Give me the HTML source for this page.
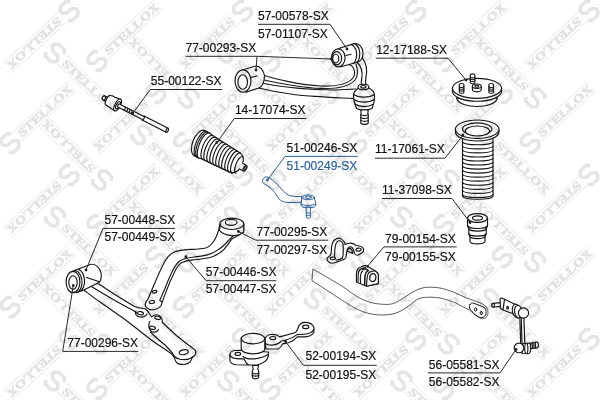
<!DOCTYPE html>
<html><head><meta charset="utf-8"><title>diagram</title>
<style>
html,body{margin:0;padding:0;background:#fff;}
svg{display:block;}
text{font-family:"Liberation Sans",sans-serif;}
</style></head><body>
<svg width="600" height="400" viewBox="0 0 600 400">
<rect width="600" height="400" fill="#fff"/>
<defs>
<g id="wm">
  <path d="M8 -6.3 L83 -6.3 M8 6.3 L83 6.3" stroke="#ececec" stroke-width="1" fill="none"/>
  <path d="M5.6,-4.4 L3.4,-6.9 L-2.6,-6.9 L-5.2,-4.3 L-5.2,-2.4 L-2.6,0 L2.6,0 L5.2,2.4 L5.2,4.3 L2.6,6.9 L-3.4,6.9 L-5.6,4.4" stroke="#e5e5e5" stroke-width="2.7" fill="none" stroke-linecap="butt" stroke-linejoin="miter" transform="translate(-1.5 0) scale(1.3)"/>
  <text x="11" y="3.9" style="font-family:'Liberation Serif',serif;font-weight:bold;font-size:11.5px" fill="#e2e2e2" stroke="#e2e2e2" stroke-width="0.6" textLength="70" lengthAdjust="spacingAndGlyphs">STELLOX</text>
</g>
</defs>
<g id="parts" fill="#fff" stroke="#161616" stroke-width="1.15" stroke-linejoin="round" stroke-linecap="round">

<!-- ===== tie rod 55-00122 ===== -->
<g transform="translate(103.9 98) rotate(27)">
  <path d="M0,-2.1 L5.5,-2.1 L5.5,2.1 L0,2.1 A1.5 2.1 0 0 1 0,-2.1Z"/>
  <ellipse cx="0" cy="0" rx="1.5" ry="2.1"/>
  <path d="M5,-5.3 L7.5,-5.9 L9,-5.6 L15.4,-6.5 L15.4,6.5 L5,5.3 A2.2 5.3 0 0 1 5,-5.3Z"/>
  <ellipse cx="15.4" cy="0" rx="2.7" ry="6.5"/>
  <ellipse cx="15.8" cy="0" rx="1.7" ry="4"/>
  <path d="M16.5,-1.7 L44,-1.7 L44,-2.2 L71,-2.2 A1 2.2 0 0 1 71,2.2 L44,2.2 L44,1.7 L16.5,1.7 A0.8 1.7 0 0 1 16.5,-1.7Z"/>
  <ellipse cx="71" cy="0" rx="1" ry="2.2"/>
  <path d="M23,-1.7 A0.8 1.7 0 0 1 23,1.7 M25.5,-1.7 A0.8 1.7 0 0 1 25.5,1.7 M28,-1.7 A0.8 1.7 0 0 1 28,1.7 M30.5,-1.7 A0.8 1.7 0 0 1 30.5,1.7 M44,-2.2 A1 2.2 0 0 1 44,2.2" fill="none"/>
</g>

<!-- ===== boot 14-17074 ===== -->
<g transform="translate(196.9 141.6) rotate(29)">
  <path d="M1.34,-13.50 L8.50,-13.6 L10.00,-13 L43,-11.2 C47.5,-10.5 50,-7 50.5,-3.2 L55,-3.2 L55,3.2 L50.5,3.2 C50,7 48,10 43,10.8 L11.50,13 L10.00,13.6 L4.66,13.50 A6.8 13.6 -7 0 1 1.34,-13.50Z"/>
  <path d="M3.14,-13.50 A5.17 13.60 -7 0 0 6.46,13.50 M4.94,-13.50 A5.17 13.60 -7 0 0 8.26,13.50 M6.74,-13.50 A5.17 13.60 -7 0 0 10.06,13.50" fill="none"/>
  <path d="M10.44,-12.70 A4.86 12.80 -7 0 0 13.56,12.70 M13.76,-12.54 A4.80 12.63 -7 0 0 16.84,12.54 M17.08,-12.38 A4.74 12.47 -7 0 0 20.12,12.38 M20.40,-12.21 A4.68 12.30 -7 0 0 23.40,12.21 M23.72,-12.05 A4.61 12.14 -7 0 0 26.68,12.05 M27.04,-11.89 A4.55 11.97 -7 0 0 29.96,11.89 M30.36,-11.72 A4.49 11.81 -7 0 0 33.24,11.72 M33.68,-11.56 A4.43 11.64 -7 0 0 36.52,11.56 M37.00,-11.39 A4.36 11.48 -7 0 0 39.80,11.39 M40.32,-11.23 A4.30 11.31 -7 0 0 43.08,11.23 M43.64,-11.07 A4.24 11.15 -7 0 0 46.36,11.07 M47.23,-8.73 A3.34 8.80 -7 0 0 49.37,8.73" fill="none"/>
  <ellipse cx="55" cy="0" rx="1.5" ry="3.2"/>
  <ellipse cx="55.2" cy="0" rx="0.9" ry="2"/>
</g>

<!-- ===== upper arm 77-00293 / 57-00578 ===== -->
<!-- arm body -->
<path d="M263,75 C275,79 300,85 321,86 C335,86.5 348,84 353,78 C355.5,74.5 355,70 352,66 L348.8,64.5 L357,60 L362.3,57.8 C366,63 367.5,70 366,77 C365,81 365.5,84 366.5,87 L362,99 C345,98 330,97.5 315,96.4 C300,96 275,92 259,88 L255,80Z"/>
<path d="M257,78.5 C275,82.5 300,88 321,88.4 C337,89 350,86 355,80 C358,76 358,70 356,64" fill="none"/>
<path d="M255,82 C275,86 300,90 335,90 L356,89" fill="none"/>
<path d="M356.5,61.5 C361,66 363,72 361.8,78 C361,81.5 361.2,84 361.8,86" fill="none"/>
<!-- left bushing -->
<path d="M243,69.8 L255,66.2 C260,65.5 263.5,70 264.5,75.5 C264.5,82 262,87 259,88 L246,92.2Z"/>
<ellipse cx="243" cy="81" rx="8" ry="11.2"/>
<ellipse cx="242.7" cy="82" rx="4.8" ry="7.3"/>
<path d="M250.5,77.5 L257,76" fill="none"/>
<!-- right bushing -->
<path d="M338,48.8 L354,43.6 C359,43 363,47 363,53 C363,58 361,61 358,62 L341,66.8Z"/>
<path d="M351,44.5 C355.5,46 357.5,52 356.5,57 C356,60 355,62 353.5,63.3 M354.5,43.6 C359,45.5 360.5,52 359.5,57 C359,60 358,61.5 357,62.3" fill="none"/>
<ellipse cx="338.3" cy="57.8" rx="6.8" ry="9"/>
<ellipse cx="336.8" cy="58.2" rx="4.8" ry="6.6"/>
<ellipse cx="335.8" cy="58.5" rx="3" ry="4.3"/>
<path d="M346,55.5 L351,54.3" fill="none"/>
<!-- ball joint -->
<path d="M358,88.5 C355,90.5 353.4,93 353.4,96 C353.6,100 354.5,103.5 356,107 L356.5,108.6 C360,110.6 368,110.6 372,108.6 L372.5,107 C374,103.5 374.6,100 374.6,96 C374.6,92.5 373,90 369,88Z"/>
<path d="M353.5,94.5 C359,98 369,98 374.5,94.5 M354,99.5 C359,103 369,103 374.2,99.5 M355.3,104.3 C360,107.3 368,107.3 373.2,104.3" fill="none"/>
<ellipse cx="363.4" cy="87" rx="5.4" ry="2.8"/>
<ellipse cx="363.4" cy="86.8" rx="2.6" ry="1.3"/>
<path d="M360.8,110 L361.2,113.5 L360.8,114.5 L360.8,123.3 C362.5,124.8 366.5,124.8 368.2,123.3 L368.2,114.5 L367.8,113.5 L368.2,110Z"/>
<path d="M360.8,117.5 C362.5,118.8 366.5,118.8 368.2,117.5 M360.8,120.4 C362.5,121.7 366.5,121.7 368.2,120.4 M360.8,114.6 C362.5,115.9 366.5,115.9 368.2,114.6" fill="none"/>

<!-- ===== strut mount 12-17188 ===== -->
<path d="M456.5,98 C458,104 468,106.5 477,106.5 C486,106.5 496,104 497.5,98Z"/>
<path d="M452.4,88.3 L452.4,91 C452.4,97 463,101.2 477,101.2 C491,101.2 501.6,97 501.6,91 L501.6,88.3Z"/>
<ellipse cx="477" cy="88.3" rx="24.6" ry="10"/>
<!-- studs -->
<g id="stud1"><path d="M470.3,82.6 L470.3,75 A2.3 1.1 0 0 1 474.9,75 L474.9,82.6 A2.3 1.1 0 0 1 470.3,82.6Z"/><path d="M470.3,76.8 A2.3 1.1 0 0 0 474.9,76.8 M470.3,78.6 A2.3 1.1 0 0 0 474.9,78.6 M470.3,80.4 A2.3 1.1 0 0 0 474.9,80.4" fill="none"/></g>
<use href="#stud1" transform="translate(-11 9.6)"/>
<use href="#stud1" transform="translate(18.6 9.6)"/>
<path d="M472.4,86.2 L472.4,89.6 A4.4 2.2 0 0 0 481.2,89.6 L481.2,86.2Z"/>
<ellipse cx="476.8" cy="86.2" rx="4.4" ry="2.2"/>
<ellipse cx="476.8" cy="86.2" rx="2" ry="1"/>

<!-- ===== boot 11-17061 ===== -->
<path d="M462.5,136 L462.5,196.3 A15.3 3.2 0 0 0 493,196.3 L493,136Z"/>
<path d="M462.5,142.0 A15.3 3 0 0 0 493,142.0 M462.5,146.1 A15.3 3 0 0 0 493,146.1 M462.5,150.1 A15.3 3 0 0 0 493,150.1 M462.5,154.2 A15.3 3 0 0 0 493,154.2 M462.5,158.2 A15.3 3 0 0 0 493,158.2 M462.5,162.2 A15.3 3 0 0 0 493,162.2 M462.5,166.3 A15.3 3 0 0 0 493,166.3 M462.5,170.3 A15.3 3 0 0 0 493,170.3 M462.5,174.4 A15.3 3 0 0 0 493,174.4 M462.5,178.4 A15.3 3 0 0 0 493,178.4 M462.5,182.5 A15.3 3 0 0 0 493,182.5 M462.5,186.6 A15.3 3 0 0 0 493,186.6 M462.5,190.6 A15.3 3 0 0 0 493,190.6 M462.5,194.7 A15.3 3 0 0 0 493,194.7" fill="none"/>
<path d="M455.4,129.2 L455.4,131.4 C455.4,137 465,141 477.2,141 C489.5,141 499,137 499,131.4 L499,129.2Z"/>
<ellipse cx="477.2" cy="129.2" rx="21.8" ry="9.2"/>
<ellipse cx="477.2" cy="129" rx="14.7" ry="6.1"/>
<ellipse cx="477.4" cy="131" rx="12.2" ry="5"/>

<!-- ===== bump stop 11-37098 ===== -->
<path d="M467.5,218 L467.5,225.5 C467.5,227 468.5,227.5 468.8,228.5 L468.8,233.5 C468.8,235 469.7,235.3 470,236.3 L470,241.5 A7.5 2.4 0 0 0 485,241.5 L485,236.3 C485.3,235.3 486.2,235 486.2,233.5 L486.2,228.5 C486.5,227.5 487.5,227 487.5,225.5 L487.5,218Z"/>
<path d="M467.5,225.5 A10 3 0 0 0 487.5,225.5 M468.8,228.5 A8.7 2.6 0 0 0 486.2,228.5 M468.8,233.5 A8.7 2.6 0 0 0 486.2,233.5 M470,236.3 A7.5 2.3 0 0 0 485,236.3" fill="none"/>
<ellipse cx="477.5" cy="218" rx="10" ry="4.4"/>
<ellipse cx="477.5" cy="218" rx="5" ry="2.1"/>

<!-- ===== bracket 77-00295 ===== -->
<path d="M327.2,258 C326.8,259.5 327.2,260.5 328,261.2 C329,262.5 330.3,263.2 331.6,263.2 C334,263.2 336,262.5 338,261.6 C340,261 342,260.5 343.6,259.6 C345,259 345.7,258.2 346,257.2 L346.8,251.6 C347,249.8 347.6,248.4 348.4,247.6 C349.2,246.9 350,246.7 350.8,246.8 C352,247.3 352.7,248.2 353.2,249.2 L354.8,254 C355.5,254.9 356.3,255.2 357.2,255.2 C358.7,255 360,254.2 361.2,253.2 C362.6,252.5 363.4,251.8 363.6,250.8 C363.8,249.5 363.5,248.4 362.8,247.6 C362,246.6 360.8,246.2 359.6,246 L355.6,245.2 C354.8,244.4 354,243.9 353.2,243.6 C352,243.2 350.6,243.1 349.2,243.2 C347.8,243.4 346.5,243.8 345.2,244.4 C344.9,243.2 344.4,242.1 343.6,241.2 C342.8,240 341.7,239 340.4,238.4 C339,238 337.7,238.2 336.4,238.8 C335.1,239.5 334,240.4 333.2,241.6 C332.4,243.2 331.9,245 331.6,246.8 L331.2,252.4 C331.1,253.8 330.7,254.8 330,255.6 C329,256.6 328,257.2 327.2,258Z"/>
<path d="M334.4,257.2 L334.8,250 C335,247.5 335.3,245.3 336,243.6 C336.7,242 337.6,241 338.8,240.8 C340,240.7 341,241 341.6,241.6 C342.5,242.5 343,243.8 343.2,245.2 L343.2,253.2 C343.1,255 342.8,256.6 342.4,258" fill="none"/>
<path d="M347.6,250.8 C348,249.5 348.5,248.7 349.2,248.4 C350,248.3 350.7,248.6 351.2,249.2 C352,250.3 352.5,251.7 352.8,253.2 M347.6,251.2 L352.8,253.4" fill="none"/>
<ellipse cx="332.8" cy="258.4" rx="2.8" ry="1.3" transform="rotate(-8 332.8 258.4)"/>
<ellipse cx="358.6" cy="249.6" rx="2.6" ry="1.5" transform="rotate(-10 358.6 249.6)"/>
<path d="M336,260.2 C338.5,259.8 340.8,259 342.4,258" fill="none"/>

<!-- ===== sway bar ===== -->
<g stroke="#4a4a4a" stroke-width="0.9">
<path d="M313.2,269.3 C316.0,270.9 325.0,276.1 330.0,279.0 C335.0,281.9 338.9,284.1 343.3,287.0 C347.8,289.9 352.2,293.8 356.7,296.3 C361.1,298.9 365.6,301.0 370.0,302.3 C374.4,303.6 379.5,304.1 383.3,304.3 C387.1,304.5 389.6,304.6 392.7,303.7 C395.8,302.8 399.1,300.7 402.0,299.0 C404.9,297.3 407.3,295.3 410.0,293.7 C412.7,292.1 415.2,290.6 418.0,289.5 C420.8,288.4 423.0,287.6 426.7,287.3 C430.4,287.1 435.6,287.2 440.0,288.0 C444.4,288.8 448.9,290.3 453.3,292.0 C457.8,293.7 462.2,296.2 466.7,298.0 C471.1,299.8 476.7,301.2 480.0,302.7 C483.3,304.2 484.9,305.4 486.2,307.0 C487.6,308.6 488.0,310.8 488.0,312.5 C488.0,314.2 487.2,316.5 486.2,317.5 C485.3,318.5 483.1,318.5 482.5,318.8 L482.5,318.8 C482.1,318.6 481.5,318.8 480.0,318.0 C478.5,317.2 475.5,315.1 473.8,313.8 C472.0,312.4 471.1,311.2 469.3,310.0 C467.5,308.8 465.4,308.0 462.7,306.7 C460.0,305.4 457.1,303.4 453.3,302.0 C449.5,300.6 444.4,298.8 440.0,298.0 C435.6,297.2 430.4,297.1 426.7,297.3 C423.0,297.5 420.8,297.7 418.0,299.0 C415.2,300.3 412.7,303.1 410.0,305.0 C407.3,306.9 404.7,308.9 402.0,310.3 C399.3,311.8 397.1,312.9 394.0,313.7 C390.9,314.5 387.3,315.0 383.3,315.0 C379.3,315.0 374.4,314.7 370.0,313.7 C365.6,312.7 361.1,311.1 356.7,309.0 C352.2,306.9 347.8,303.8 343.3,301.0 C338.9,298.2 335.2,295.7 330.0,292.3 C324.8,288.9 315.2,282.7 312.3,280.8Z"/>
</g>
<g stroke-width="1">
<path d="M470,304.4 C471,303.2 472,302.8 473,303 C477,304.5 481.5,306 485,308 C486.3,310 486.3,313 485.6,315 C484.5,317 482.5,318 480,317.5 C477,316.3 474.5,314.5 472.5,312 C470.5,310 469.4,308.5 469.4,306.9 C469.3,305.8 469.5,305 470,304.4Z"/>
<ellipse cx="475.6" cy="309.4" rx="1.1" ry="1.7"/>
<ellipse cx="481.2" cy="313" rx="1.1" ry="1.7"/>
</g>

<!-- ===== bushing 79-00154 ===== -->
<path d="M356.4,282 L356.4,274 C356.6,270 358.5,267.5 361.2,266.8 C363,266 365,265.4 366.5,265.8 L375.6,271.2 C377.5,272.5 378.4,274 378.4,275.6 L378.4,283.6 L366.4,286.2Z"/>
<path d="M358,281.6 L358.2,274 C358.6,271 360,269 362,268.4 C363.5,268 364.5,267.6 365.6,267.6 M360.6,282.6 C360,277 360.6,273 362.4,271.2" fill="none"/>
<path d="M364.6,284.8 L365,276.4 C365.2,273.5 366.5,271.4 368.4,270.6 C366,268.5 364,268.6 362.8,269.6" fill="none" stroke-width="1.5"/>
<path d="M366.4,286.2 L367.2,277.2 C367.4,274.5 368.8,272.3 370.8,271.6 C372.5,271 374.3,270.9 375.6,271.2 C377.4,272.3 378.4,274 378.4,275.6 L378.4,283.6Z"/>
<ellipse cx="372.8" cy="277.6" rx="3.1" ry="4" transform="rotate(10 372.8 277.6)" stroke-width="1.3"/>

<!-- ===== link 56-05581 ===== -->
<path d="M493,303.4 L500.5,302.6 L501,306.4 L493.4,307.2 A1.3 1.9 0 0 1 493,303.4Z"/>
<ellipse cx="493.2" cy="305.3" rx="1.3" ry="1.9"/>
<path d="M500,299.3 C500.5,298.3 501.5,298 502.5,298.3 L517.5,305.5 L513,313.8 L502,309.5 C500.5,308.8 500,307.5 500.3,306 Z"/>
<path d="M504.5,299.3 L503,309.8" fill="none"/>
<ellipse cx="507.6" cy="307.8" rx="0.9" ry="1.4"/>
<ellipse cx="516.6" cy="311" rx="4.2" ry="6.9" transform="rotate(-12 516.6 311)"/>
<ellipse cx="518.6" cy="311.8" rx="4" ry="6.4" transform="rotate(-12 518.6 311.8)"/>
<path d="M519.8,317 L523.9,317 L524.8,344 L520.7,344Z"/>
<path d="M521.2,317 L522,344" fill="none"/>
<circle cx="523.5" cy="313" r="5.1"/>
<path d="M523,343.5 L529,343 C530.5,343.5 530.7,345 530.7,348 C530.7,351.5 530,353.3 528.5,353.7 L522,353.5Z"/>
<path d="M530.5,343 L537,342 A1.3 2.9 0 0 1 537,347.8 L530.7,348.8Z"/>
<path d="M532.2,342.7 L532.4,348.5 M533.8,342.5 L534,348.3 M535.4,342.3 L535.6,348.1" fill="none"/>
<circle cx="519" cy="347.9" r="4.8"/>
<ellipse cx="526.3" cy="348.5" rx="1.6" ry="5" />

<!-- ===== curved arm 57-00446 ===== -->
<path d="M218.7,229.7 C217.5,234 216,238.5 213.5,241.5 C211.5,244.5 209,247 205.6,248 C200,249.3 195,249.2 189.9,249.4 C184.5,249.8 179,250.3 174.1,252 C170,254 167,257.5 164.9,261.2 C161.5,267.5 158.5,274 155.7,280.9 C153,287 150.5,293 147.9,299.2 C146.5,301 145.5,302.8 145.2,304.5 C145.3,306.5 146.5,308 148.5,309 C150,309.8 151.6,310 153.1,309.7 C156.5,309.3 159.5,308 161,305.8 L162.3,301.9 C163.5,298.5 164.8,295 166.2,291.4 C168.5,285 171,279 174.1,273 C176,268.5 178.5,264.5 182,262.5 C185.5,261 189,260.3 192.5,259.9 C198.5,259.3 205,258.8 210.9,257.2 C216,255.5 220.5,253 224,249.4 C227,246 229.5,242.5 231.9,238.9 L243.7,232.3 L243.7,224 L220,224Z"/>
<path d="M238.4,231 C235,234 231.5,237.5 228.5,240.5 C225.5,243.8 222.5,247 218.7,249.4 C215.5,251.8 212,253.5 208.2,254.6 C203,256 197.5,256.7 192.5,257.2 C188,257.7 183,258.5 179.4,261.2 C176,264 173.5,268.5 171.5,273 C169,278 167,283.3 164.9,288.7 C163,292.7 161.3,296.7 159.7,300.6 L162.3,301.9" fill="none"/>
<ellipse cx="154.5" cy="291.8" rx="2.4" ry="1.3" transform="rotate(-10 154.5 291.8)"/>
<ellipse cx="151.9" cy="302" rx="2.7" ry="1.5" transform="rotate(-10 151.9 302)"/>
<!-- bushing top -->
<path d="M220,223.8 L220,228 C219.8,229 219.3,229.5 218.7,229.7 C221.5,233.3 227,235.6 233,235.6 C238,235.4 242,234 243.3,232 C243.7,231 243.7,230 243.7,229 L243.7,223.8Z"/>
<ellipse cx="231.85" cy="223.8" rx="11.85" ry="5.7"/>
<ellipse cx="231.2" cy="222.3" rx="5.9" ry="3"/>

<!-- ===== lower arm 57-00448 ===== -->
<path d="M99,284 C109,291 121,298.5 134.5,306.5 C138,307.8 141.5,308.3 145,308.75 C147,310 148.5,312 149.5,314 L151.75,317 C153,315.5 155,314.6 157,314.75 C159,315 160.5,316.2 161.5,317.75 C162.3,319.2 162.5,320.7 162.25,322.25 C167,326.8 172,331.5 177,336 C182.5,340.5 188,344.8 193.5,348.75 C195.5,350 196.2,351.8 195.75,353.25 C195.3,355 194.2,356.3 192.75,357 L192,357.75 C191.7,359.5 191,361 189.75,362.25 C188,363.8 186,364.5 183.75,364.5 C181,364.5 178.5,364.2 177,363 C175.8,361.8 175,360 174.75,358.5 C174,356.8 173,355.3 171.75,354 C168.5,351.7 165.3,349.5 162,347.25 C157.5,344.5 153.5,341.7 150,339 C145.5,335.5 141,332 136,328 C131.5,324.5 127,321 122.5,317.75 C115,312.5 107.5,307.2 100,302 C94,298 89,294 83.75,290 L87.5,282.5Z"/>
<path d="M88,284.5 C102,293 116,301.5 130,308.75 C133,310 135.5,311.5 137,313.5 M150.5,332 C155,337 160,341 165,345 C168,348 170.5,350.8 172.5,353.2 C173.5,356 176,358.3 180,359.3 C185,360.2 190,359 192.75,357" fill="none"/>
<ellipse cx="183.75" cy="352.2" rx="4.6" ry="2.4" transform="rotate(-10 183.75 352.2)"/>
<ellipse cx="140.5" cy="313.2" rx="3" ry="1.6" transform="rotate(12 140.5 313.2)"/>
<ellipse cx="157.7" cy="317.8" rx="3" ry="1.6" transform="rotate(12 157.7 317.8)"/>
<ellipse cx="152.5" cy="327.8" rx="3" ry="1.6" transform="rotate(12 152.5 327.8)"/>
<path d="M136,311 C134.5,313.5 136,316.5 140,317 C143.5,317.3 146,316 147,314 M149.8,321.5 C148,325 148.5,329.5 151.5,331.5 C154.5,332.8 157.5,331.8 158.5,329.5" fill="none"/>
<!-- bushing -->
<path d="M72.5,271.3 L91,264.3 C96,263.8 100,268 101.3,274 C101.5,279 100.3,281.5 98.75,282.5 L83.75,290 L76.3,292.7Z"/>
<path d="M75.5,270.3 C80,272 82.5,278 82,284 C81.5,288 80,290.5 78.3,292 M78.3,269.3 C83,271 85,277.5 84.5,283.5 C84,287.5 82.5,289.5 81,291" fill="none"/>
<path d="M86.5,277.5 L99.5,281.8" fill="none"/>
<ellipse cx="73" cy="282" rx="6.9" ry="10.7"/>
<ellipse cx="73" cy="282.5" rx="4.2" ry="6.8"/>

<!-- ===== ball joint 52-00194 ===== -->
<path d="M265,338.5 C266,336 269,334.4 272.8,334.3 C275.5,334.3 278,335.3 279.8,336.9 L295.6,332.5 C297.3,330.5 298.3,328 299,325.5 C300.3,323.5 302.3,322.5 304.3,322.4 C308.5,322.3 312.5,324 313.9,327.3 L313.9,331 C313.9,332 313.5,332.8 313,333.4 C311,335.8 307.8,336.9 304.3,336.9 L297.3,336.9 C295,339.5 292,341.5 288.5,342.8 L282.4,343.9 C281.8,346 280.3,348 278,349 L265.8,349Z"/>
<path d="M281.5,341 C287,340 292.5,338 297,334.6 L304.3,334.2 C308,334 312,332.5 313.9,329.5 M265.5,343.5 C268,345.8 276,346.3 281.5,341" fill="none"/>
<ellipse cx="272.8" cy="338.1" rx="3" ry="1.6"/>
<ellipse cx="305.7" cy="326.9" rx="3.1" ry="1.7"/>
<path d="M229.9,354 C230.2,351.8 233.5,350.2 238,350.2 L248,351 L268.4,352 L268.4,356 C267.5,359 266.5,360.5 264.9,361.4 C262.5,363.5 260,364.5 257,365 L248.3,365 L236,364.8 C232.5,364.3 230.3,362.8 229.9,360.5Z"/>
<path d="M229.9,355 C231,358 237,359.3 244,358.8 C245,361.5 246.5,363.8 248.3,365" fill="none"/>
<ellipse cx="237.8" cy="353.9" rx="2.8" ry="1.5"/>
<path d="M241.2,338.6 L241.2,349 A11.8 4.8 0 0 0 264.8,349 L264.8,338.6Z"/>
<ellipse cx="253" cy="338.6" rx="11.8" ry="5.2"/>
<path d="M243,356.5 C247,360 259,360 268,354.5" fill="none"/>
<path d="M252.5,365.5 L253.2,369 L252.3,371 L252.3,377.5 C253.5,379.3 257.5,379.3 258.7,377.5 L258.7,371 L257.8,369 L258.5,365.5Z"/>
<path d="M252.3,373 C254,374 257,374 258.7,373 M252.3,375.2 C254,376.2 257,376.2 258.7,375.2" fill="none"/>

</g>

<!-- ===== tie rod end 51-00249 (blue) ===== -->
<g fill="#fff" stroke="#2c62a0" stroke-width="1" stroke-linejoin="round" stroke-linecap="round">
<path d="M269.25,177.75 C272,179.5 275,182 277.5,184.5 C280,187.5 282.5,190.5 285,192.75 C287.5,194.8 290,195.8 292.5,196.2 L302.25,196.8 L302,202.2 L288,202.5 C284.5,202.3 282.3,201.5 280.5,200.25 C278.5,198.5 277.3,196.5 276,194.25 C274,191.5 272,189.3 270,187.5 C267.5,185.5 265,184.5 263.25,183 C262,181.5 262.5,179 264,177.7 C265.7,176.5 267.7,176.7 269.25,177.75Z"/>
<path d="M301,203.5 C300.3,205.3 301.5,206.8 304,207.3 L313,207.3 C315.3,206.8 316.3,205.3 315.7,203.5 L314.3,197.3 L302.3,197.3Z"/>
<path d="M300.8,204 C304,206 312,206 315.8,204" fill="none"/>
<ellipse cx="308.3" cy="197.3" rx="6" ry="2.4"/>
<ellipse cx="308.3" cy="197.2" rx="3" ry="1.2"/>
<path d="M306,207.5 L306.3,210 L306.3,217.5 C307.3,218.5 309.3,218.5 310.3,217.5 L310.3,210 L310.6,207.5Z"/>
<path d="M306.3,212.5 C307.3,213.3 309.3,213.3 310.3,212.5 M306.3,215 C307.3,215.8 309.3,215.8 310.3,215" fill="none"/>
</g>

<!-- ===== leaders & labels ===== -->
<g stroke="#2a2a2a" stroke-width="1" fill="none" stroke-linecap="butt">
  <path d="M258,24.3 L330,24.3 L347,49"/>
  <path d="M185.5,56.3 L257,56.3 L331.5,59 M257,56.3 L256,70"/>
  <path d="M222.3,89.5 L150.3,89.5 L132.7,113.5"/>
  <path d="M306.3,118.5 L234.3,118.5 L216.8,142.5"/>
  <path d="M376,58.2 L448,58.2 L466,80"/>
  <path d="M375,158.2 L445,158.2 L463,135"/>
  <path d="M382,198.5 L452,198.5 L470,222.5"/>
  <path d="M456.7,246.9 L384,246.9 L367.5,266.3"/>
  <path d="M328.3,240.2 L255.8,240.2 L238.4,231.5"/>
  <path d="M175,228.4 L103,228.4 L86,270"/>
  <path d="M276.3,280.7 L206,280.7 L185.9,256.7"/>
  <path d="M138.3,351.4 L62.7,351.4 L73.3,285.5"/>
  <path d="M376.7,365.3 L303.4,365.3 L285.5,341.5"/>
  <path d="M428,372.9 L500,372.9 L516,349.5"/>
</g>
<g fill="#222" stroke="none">
  <circle cx="347" cy="49" r="1.4"/><circle cx="256" cy="70" r="1.4"/><circle cx="331" cy="59" r="1.2"/>
  <circle cx="132.7" cy="113.5" r="1.4"/><circle cx="216.8" cy="142.5" r="1.4"/><circle cx="466" cy="80" r="1.4"/>
  <circle cx="463" cy="135" r="1.4"/><circle cx="470" cy="222.5" r="1.4"/><circle cx="367.5" cy="266.3" r="1.4"/>
  <circle cx="238.4" cy="231.5" r="1.4"/><circle cx="86" cy="270" r="1.4"/><circle cx="185.9" cy="256.7" r="1.4"/>
  <circle cx="73.3" cy="285.5" r="1.4"/><circle cx="285.5" cy="341.5" r="1.4"/><circle cx="516" cy="349.5" r="1.4"/>
</g>
<g stroke="#2c62a0" stroke-width="1" fill="none"><path d="M357.8,156.4 L285,156.4 L267.5,180"/></g>
<circle cx="267.5" cy="180" r="1.4" fill="#2c62a0"/>
<g font-size="12" fill="#111" stroke="#111" stroke-width="0.18" font-family="Liberation Sans" style="will-change:transform;opacity:0.999">
  <text x="258" y="20">57-00578-SX</text>
  <text x="258" y="37.5">57-01107-SX</text>
  <text x="185.5" y="51.5">77-00293-SX</text>
  <text x="150.8" y="84.9">55-00122-SX</text>
  <text x="234.9" y="113.9">14-17074-SX</text>
  <text x="286.6" y="152">51-00246-SX</text>
  <text x="286.6" y="169.8" fill="#2c62a0" stroke="#2c62a0">51-00249-SX</text>
  <text x="376.2" y="53.8">12-17188-SX</text>
  <text x="375" y="153.4">11-17061-SX</text>
  <text x="382" y="194.2">11-37098-SX</text>
  <text x="385.1" y="242.6">79-00154-SX</text>
  <text x="385.1" y="260.6">79-00155-SX</text>
  <text x="256.6" y="235.7">77-00295-SX</text>
  <text x="256.6" y="253.6">77-00297-SX</text>
  <text x="104.5" y="223.6">57-00448-SX</text>
  <text x="104.5" y="241.2">57-00449-SX</text>
  <text x="205.8" y="276.3">57-00446-SX</text>
  <text x="205.8" y="293.1">57-00447-SX</text>
  <text x="67.3" y="346.9">77-00296-SX</text>
  <text x="305.5" y="360.2">52-00194-SX</text>
  <text x="305.5" y="378.5">52-00195-SX</text>
  <text x="428.8" y="369">56-05581-SX</text>
  <text x="428.8" y="386">56-05582-SX</text>
</g>

<g id="watermarks" style="mix-blend-mode:multiply">
<use href="#wm" transform="translate(68.0 12.0) rotate(137.1)"/>
<use href="#wm" transform="translate(68.0 176.0) rotate(137.1)"/>
<use href="#wm" transform="translate(68.0 340.0) rotate(137.1)"/>
<use href="#wm" transform="translate(241.3 12.0) rotate(137.1)"/>
<use href="#wm" transform="translate(241.3 176.0) rotate(137.1)"/>
<use href="#wm" transform="translate(241.3 340.0) rotate(137.1)"/>
<use href="#wm" transform="translate(414.6 12.0) rotate(137.1)"/>
<use href="#wm" transform="translate(414.6 176.0) rotate(137.1)"/>
<use href="#wm" transform="translate(414.6 340.0) rotate(137.1)"/>
<use href="#wm" transform="translate(587.9 12.0) rotate(137.1)"/>
<use href="#wm" transform="translate(587.9 176.0) rotate(137.1)"/>
<use href="#wm" transform="translate(587.9 340.0) rotate(137.1)"/>
<use href="#wm" transform="translate(154.7 94.0) rotate(137.1)"/>
<use href="#wm" transform="translate(154.7 258.0) rotate(137.1)"/>
<use href="#wm" transform="translate(328.0 94.0) rotate(137.1)"/>
<use href="#wm" transform="translate(328.0 258.0) rotate(137.1)"/>
<use href="#wm" transform="translate(501.2 94.0) rotate(137.1)"/>
<use href="#wm" transform="translate(501.2 258.0) rotate(137.1)"/>
<use href="#wm" transform="translate(56.0 54.0) rotate(43.8)"/>
<use href="#wm" transform="translate(56.0 218.0) rotate(43.8)"/>
<use href="#wm" transform="translate(56.0 382.0) rotate(43.8)"/>
<use href="#wm" transform="translate(229.3 54.0) rotate(43.8)"/>
<use href="#wm" transform="translate(229.3 218.0) rotate(43.8)"/>
<use href="#wm" transform="translate(229.3 382.0) rotate(43.8)"/>
<use href="#wm" transform="translate(402.6 54.0) rotate(43.8)"/>
<use href="#wm" transform="translate(402.6 218.0) rotate(43.8)"/>
<use href="#wm" transform="translate(402.6 382.0) rotate(43.8)"/>
<use href="#wm" transform="translate(142.7 136.0) rotate(43.8)"/>
<use href="#wm" transform="translate(142.7 300.0) rotate(43.8)"/>
<use href="#wm" transform="translate(316.0 136.0) rotate(43.8)"/>
<use href="#wm" transform="translate(316.0 300.0) rotate(43.8)"/>
<use href="#wm" transform="translate(489.2 136.0) rotate(43.8)"/>
<use href="#wm" transform="translate(489.2 300.0) rotate(43.8)"/>
<use href="#wm" transform="translate(98.0 60.0) rotate(-42.7)"/>
<use href="#wm" transform="translate(98.0 224.0) rotate(-42.7)"/>
<use href="#wm" transform="translate(98.0 388.0) rotate(-42.7)"/>
<use href="#wm" transform="translate(271.3 60.0) rotate(-42.7)"/>
<use href="#wm" transform="translate(271.3 224.0) rotate(-42.7)"/>
<use href="#wm" transform="translate(271.3 388.0) rotate(-42.7)"/>
<use href="#wm" transform="translate(444.6 60.0) rotate(-42.7)"/>
<use href="#wm" transform="translate(444.6 224.0) rotate(-42.7)"/>
<use href="#wm" transform="translate(444.6 388.0) rotate(-42.7)"/>
<use href="#wm" transform="translate(11.3 142.0) rotate(-42.7)"/>
<use href="#wm" transform="translate(11.3 306.0) rotate(-42.7)"/>
<use href="#wm" transform="translate(184.7 142.0) rotate(-42.7)"/>
<use href="#wm" transform="translate(184.7 306.0) rotate(-42.7)"/>
<use href="#wm" transform="translate(358.0 142.0) rotate(-42.7)"/>
<use href="#wm" transform="translate(358.0 306.0) rotate(-42.7)"/>
<use href="#wm" transform="translate(531.2 142.0) rotate(-42.7)"/>
<use href="#wm" transform="translate(531.2 306.0) rotate(-42.7)"/>
<use href="#wm" transform="translate(101.0 179.0) rotate(-135.0)"/>
<use href="#wm" transform="translate(101.0 343.0) rotate(-135.0)"/>
<use href="#wm" transform="translate(274.3 179.0) rotate(-135.0)"/>
<use href="#wm" transform="translate(274.3 343.0) rotate(-135.0)"/>
<use href="#wm" transform="translate(447.6 179.0) rotate(-135.0)"/>
<use href="#wm" transform="translate(447.6 343.0) rotate(-135.0)"/>
<use href="#wm" transform="translate(187.7 97.0) rotate(-135.0)"/>
<use href="#wm" transform="translate(187.7 261.0) rotate(-135.0)"/>
<use href="#wm" transform="translate(187.7 425.0) rotate(-135.0)"/>
<use href="#wm" transform="translate(361.0 97.0) rotate(-135.0)"/>
<use href="#wm" transform="translate(361.0 261.0) rotate(-135.0)"/>
<use href="#wm" transform="translate(361.0 425.0) rotate(-135.0)"/>
<use href="#wm" transform="translate(534.2 97.0) rotate(-135.0)"/>
<use href="#wm" transform="translate(534.2 261.0) rotate(-135.0)"/>
<use href="#wm" transform="translate(534.2 425.0) rotate(-135.0)"/>
</g>
</svg>
</body></html>
